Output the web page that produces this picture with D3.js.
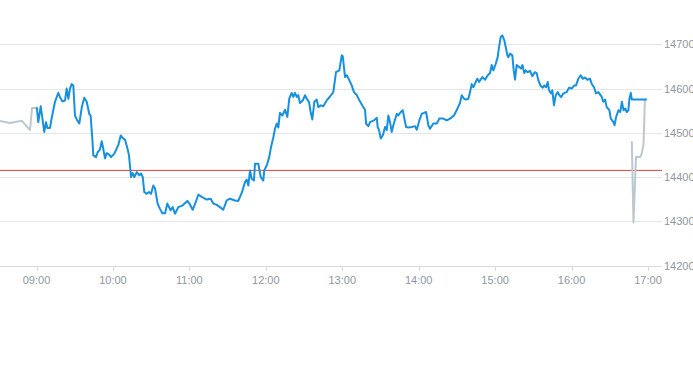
<!DOCTYPE html>
<html>
<head>
<meta charset="utf-8">
<script src="https://cdn.jsdelivr.net/npm/d3@7"></script>
<style>
  html, body { margin: 0; padding: 0; background: #fff; }
  svg { display: block; }
  text { font-family: "Liberation Sans", Arial, sans-serif; }
</style>
</head>
<body>
<svg id="chart" width="693" height="365"></svg>
<script>
// ---- data (minutes from 09:00, price) ----
const yTicks = [14200, 14300, 14400, 14500, 14600, 14700];
const xTickLabels = ["09:00","10:00","11:00","12:00","13:00","14:00","15:00","16:00","17:00"];
const prevClose = 14415;

const preTimes  = [-29, -20.8, -11.4, -5.1, -3.5, 0];
const preValues = [14527, 14522, 14527, 14506, 14556, 14556];

const postTimes  = [467.3, 468.6, 470.6, 473.8, 475.1, 476.5, 477.1, 477.5, 479];
const postValues = [14481, 14297, 14445, 14445, 14453, 14475, 14530, 14575, 14575];

const mainTimes = [0.2,1.4,3.3,4.6,6.1,7.5,8.5,10.6,11.9,14.5,17.1,18.4,20.3,22.4,23.7,25,26.3,27.6,28.9,30.2,32,33.6,35.5,37.5,39.4,41.4,42.5,43.8,44.6,46.7,48,49.8,51.2,52.4,53.8,55.1,56.9,58.5,61.1,64.2,66.1,67.4,69.5,71.6,72.6,74.2,75.5,76.8,78.7,80.7,82,83.4,84.6,86.5,88.3,89.9,91.7,93,95.1,96.9,98.8,100.9,102.7,104.2,105.3,106.9,108.7,111.3,114.8,118.4,120,122.6,125,127,129.7,133.6,136.7,138.8,141.5,144,146.6,149.3,151.9,155.8,158.4,161.1,163.7,165,166.3,167.6,168.9,170.7,171.5,174.1,176,178,178.8,180.7,182.7,184.1,185.9,187.2,188.6,189.8,191.1,193,195.1,196.9,198.4,200.3,201.6,202.9,204.3,205.5,206.8,209,210.8,212.1,213.9,215.2,216.5,218.1,220,221.2,223.1,225.1,227.8,230.4,233,235.1,237.7,239.6,240.4,242.2,243.5,245.5,247.4,249.2,251.4,253.9,256.1,257.9,258.7,260.5,261.8,264.9,267.1,267.8,268.9,270.2,271.8,273.6,274.9,276.2,277.5,278.8,280.1,282.8,284,285.9,287.5,288.5,290.1,291.9,294.5,297.1,298.5,300.5,302.4,304.2,305.8,307.6,308.9,311.5,314.2,316.2,319.3,322,324.6,327.7,329.8,332.4,333.8,335.6,337.2,339,340.3,341.6,342.9,344.8,346,347.4,350,352.1,354.2,356,357.3,358.6,360.5,362,363.1,364.4,365.7,367.2,368.6,369.6,370.4,371.7,373.5,374.6,375.6,376.9,378.8,380.3,381.4,382.9,384,385.6,387.4,389.2,391.3,392.6,393.9,395.5,397.4,398.6,400,401.3,402.3,403.9,404.9,406.2,407.6,409.2,410.4,411.8,413.6,416.2,418,420.1,422.2,423.5,425.3,427.2,428.8,430.6,432.4,434.5,435.8,437.6,439.2,441,443.7,444.9,446.3,447.6,449.7,450.8,452.9,453.7,455,456.8,458.2,459.5,460.8,462.1,463.3,464.6,465.4,466.5,467.3,479];
const mainValues = [14558,14524,14560,14533,14502,14524,14511,14511,14533,14570,14590,14581,14571,14573,14600,14577,14600,14610,14607,14539,14528,14521,14557,14579,14570,14543,14539,14487,14449,14445,14456,14462,14481,14464,14442,14454,14451,14445,14453,14472,14494,14489,14484,14462,14449,14400,14409,14400,14411,14404,14408,14400,14366,14362,14366,14362,14381,14374,14340,14328,14318,14318,14340,14331,14325,14332,14317,14332,14336,14346,14340,14326,14343,14360,14355,14349,14351,14340,14337,14332,14326,14347,14351,14347,14346,14364,14389,14394,14381,14415,14396,14392,14430,14430,14400,14392,14415,14426,14445,14468,14490,14509,14521,14512,14545,14539,14552,14536,14577,14590,14581,14590,14581,14585,14567,14573,14585,14577,14570,14547,14530,14570,14575,14558,14562,14560,14573,14582,14592,14637,14641,14675,14673,14626,14630,14619,14607,14592,14585,14571,14560,14552,14521,14515,14524,14528,14534,14513,14506,14487,14494,14513,14506,14539,14524,14502,14517,14543,14539,14547,14551,14536,14513,14512,14513,14515,14507,14528,14543,14545,14547,14517,14509,14521,14521,14532,14532,14528,14532,14539,14551,14567,14585,14577,14575,14577,14592,14610,14603,14615,14622,14615,14626,14620,14630,14635,14653,14641,14656,14671,14694,14717,14720,14709,14690,14675,14671,14679,14675,14641,14620,14653,14649,14645,14653,14635,14641,14637,14640,14628,14637,14635,14619,14607,14602,14607,14603,14615,14596,14589,14596,14562,14585,14592,14585,14581,14589,14592,14602,14600,14607,14607,14622,14630,14622,14625,14620,14622,14611,14603,14589,14592,14581,14570,14575,14558,14551,14532,14524,14517,14536,14551,14547,14570,14551,14555,14547,14551,14577,14590,14575,14575];

// ---- helpers ----
const base = new Date(2024, 0, 2, 9, 0, 0);
const toDate = m => new Date(base.getTime() + m * 60000);
const zip = (ts, vs) => ts.map((t, i) => ({ t: toDate(t), v: vs[i] }));

const svg = d3.select("#chart");
const plotRight = 662;

const x = d3.scaleTime()
  .domain([toDate(0), toDate(480)])
  .range([36.5, 648]);
const y = d3.scaleLinear()
  .domain([14200, 14700])
  .range([265.5, 44.3]);

// clip
svg.append("defs").append("clipPath").attr("id", "clip")
  .append("rect").attr("x", 0).attr("y", 0).attr("width", plotRight).attr("height", 300);

// gridlines + y labels
const gy = svg.append("g");
gy.selectAll("line").data(yTicks).join("line")
  .attr("x1", 0).attr("x2", plotRight)
  .attr("y1", d => Math.round(y(d)) + 0.5).attr("y2", d => Math.round(y(d)) + 0.5)
  .attr("stroke", d => d === 14200 ? "#d6dbe0" : "#e3e6e9")
  .attr("stroke-width", 1);
gy.selectAll("text").data(yTicks).join("text")
  .attr("x", 664).attr("y", d => Math.round(y(d)) + 0.5)
  .attr("dy", "0.35em")
  .attr("font-size", 11)
  .attr("fill", "#8e979f")
  .text(d => d);

// x axis ticks and labels
const xTickDates = xTickLabels.map((s, i) => toDate(i * 60));
const gx = svg.append("g");
gx.selectAll("line").data(xTickDates).join("line")
  .attr("x1", d => Math.round(x(d)) + 0.5).attr("x2", d => Math.round(x(d)) + 0.5)
  .attr("y1", 266).attr("y2", 271)
  .attr("stroke", "#d6dbe0");
gx.selectAll("text").data(xTickDates).join("text")
  .attr("x", d => x(d)).attr("y", 284)
  .attr("text-anchor", "middle")
  .attr("font-size", 11)
  .attr("fill", "#8e979f")
  .text((d, i) => xTickLabels[i]);

// previous close line
svg.append("line")
  .attr("x1", 0).attr("x2", plotRight)
  .attr("y1", y(prevClose)).attr("y2", y(prevClose))
  .attr("stroke", "#e0403a").attr("stroke-width", 1);

const line = d3.line().x(d => x(d.t)).y(d => y(d.v));
const g = svg.append("g").attr("clip-path", "url(#clip)");

g.append("path").datum(zip(preTimes, preValues))
  .attr("d", line).attr("fill", "none")
  .attr("stroke", "#bcc7cf").attr("stroke-width", 2).attr("stroke-linejoin", "round");
g.append("path").datum(zip(postTimes, postValues))
  .attr("d", line).attr("fill", "none")
  .attr("stroke", "#bcc7cf").attr("stroke-width", 2).attr("stroke-linejoin", "round");
g.append("path").datum(zip(mainTimes, mainValues))
  .attr("d", line).attr("fill", "none")
  .attr("stroke", "#1790dd").attr("stroke-width", 2).attr("stroke-linejoin", "round");
</script>
</body>
</html>
